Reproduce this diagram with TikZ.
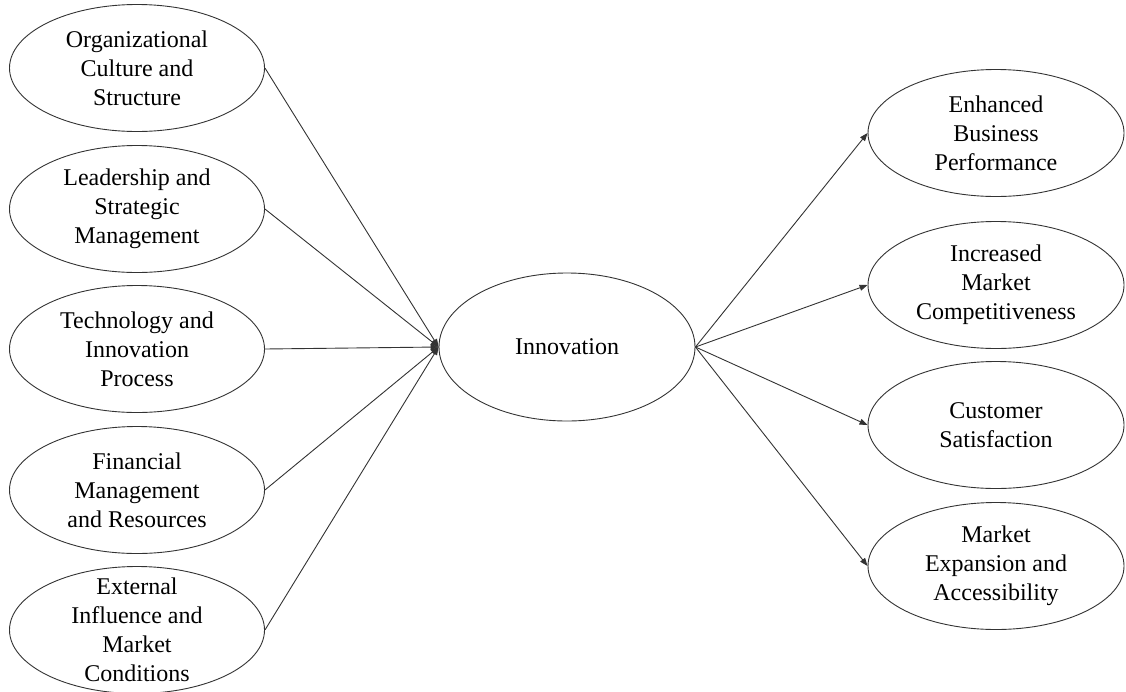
\documentclass[tikz,border=0pt]{standalone}
\usepackage{fontspec}
\setmainfont{Liberation Serif}
\usetikzlibrary{shapes.geometric,arrows.meta}
\begin{document}
\begin{tikzpicture}[x=1pt,y=-1pt,
  oval/.style={ellipse,draw=black!80,line width=0.9pt,inner sep=0pt,minimum width=255pt,minimum height=127pt},
  bigoval/.style={oval,minimum width=256pt,minimum height=148pt},
  lbl/.style={align=center,inner sep=0pt,font=\fontsize{24}{29}\selectfont},
  arr/.style={draw=black!80,line width=0.9pt,-{Triangle[length=8pt,width=6pt]}}]
\useasboundingbox (0,0) rectangle (1126,691);
% left nodes
\node[oval] (org) at (137,68) {};
\node[lbl] at (org) {Organizational\\Culture and\\Structure};
\node[oval] (lead) at (137,209) {};
\node[lbl] at (lead) {Leadership and\\Strategic\\Management};
\node[oval] (tech) at (137,349) {};
\node[lbl] at (tech) {Technology and\\Innovation\\Process};
\node[oval] (fin) at (137,490) {};
\node[lbl] at (fin) {Financial\\Management\\and Resources};
\node[oval] (ext) at (137,630) {};
\node[lbl] at (ext) {External\\Influence and\\Market\\Conditions};
% center
\node[bigoval] (inn) at (567,347) {};
\node[lbl] at (inn) {Innovation};
% right nodes
\node[oval,minimum width=256pt] (enh) at (996,133) {};
\node[lbl] at (enh) {Enhanced\\Business\\Performance};
\node[oval,minimum width=256pt] (inc) at (996,285) {};
\node[lbl] at (inc) {Increased\\Market\\Competitiveness};
\node[oval,minimum width=256pt] (cust) at (996,425) {};
\node[lbl] at (cust) {Customer\\Satisfaction};
\node[oval,minimum width=256pt] (mkt) at (996,566) {};
\node[lbl] at (mkt) {Market\\Expansion and\\Accessibility};
% connectors
\foreach \n in {org,lead,tech,fin,ext}
  \draw[arr] (\n.east) -- (inn.west);
\foreach \n in {enh,inc,cust,mkt}
  \draw[arr] (inn.east) -- (\n.west);
\end{tikzpicture}
\end{document}
